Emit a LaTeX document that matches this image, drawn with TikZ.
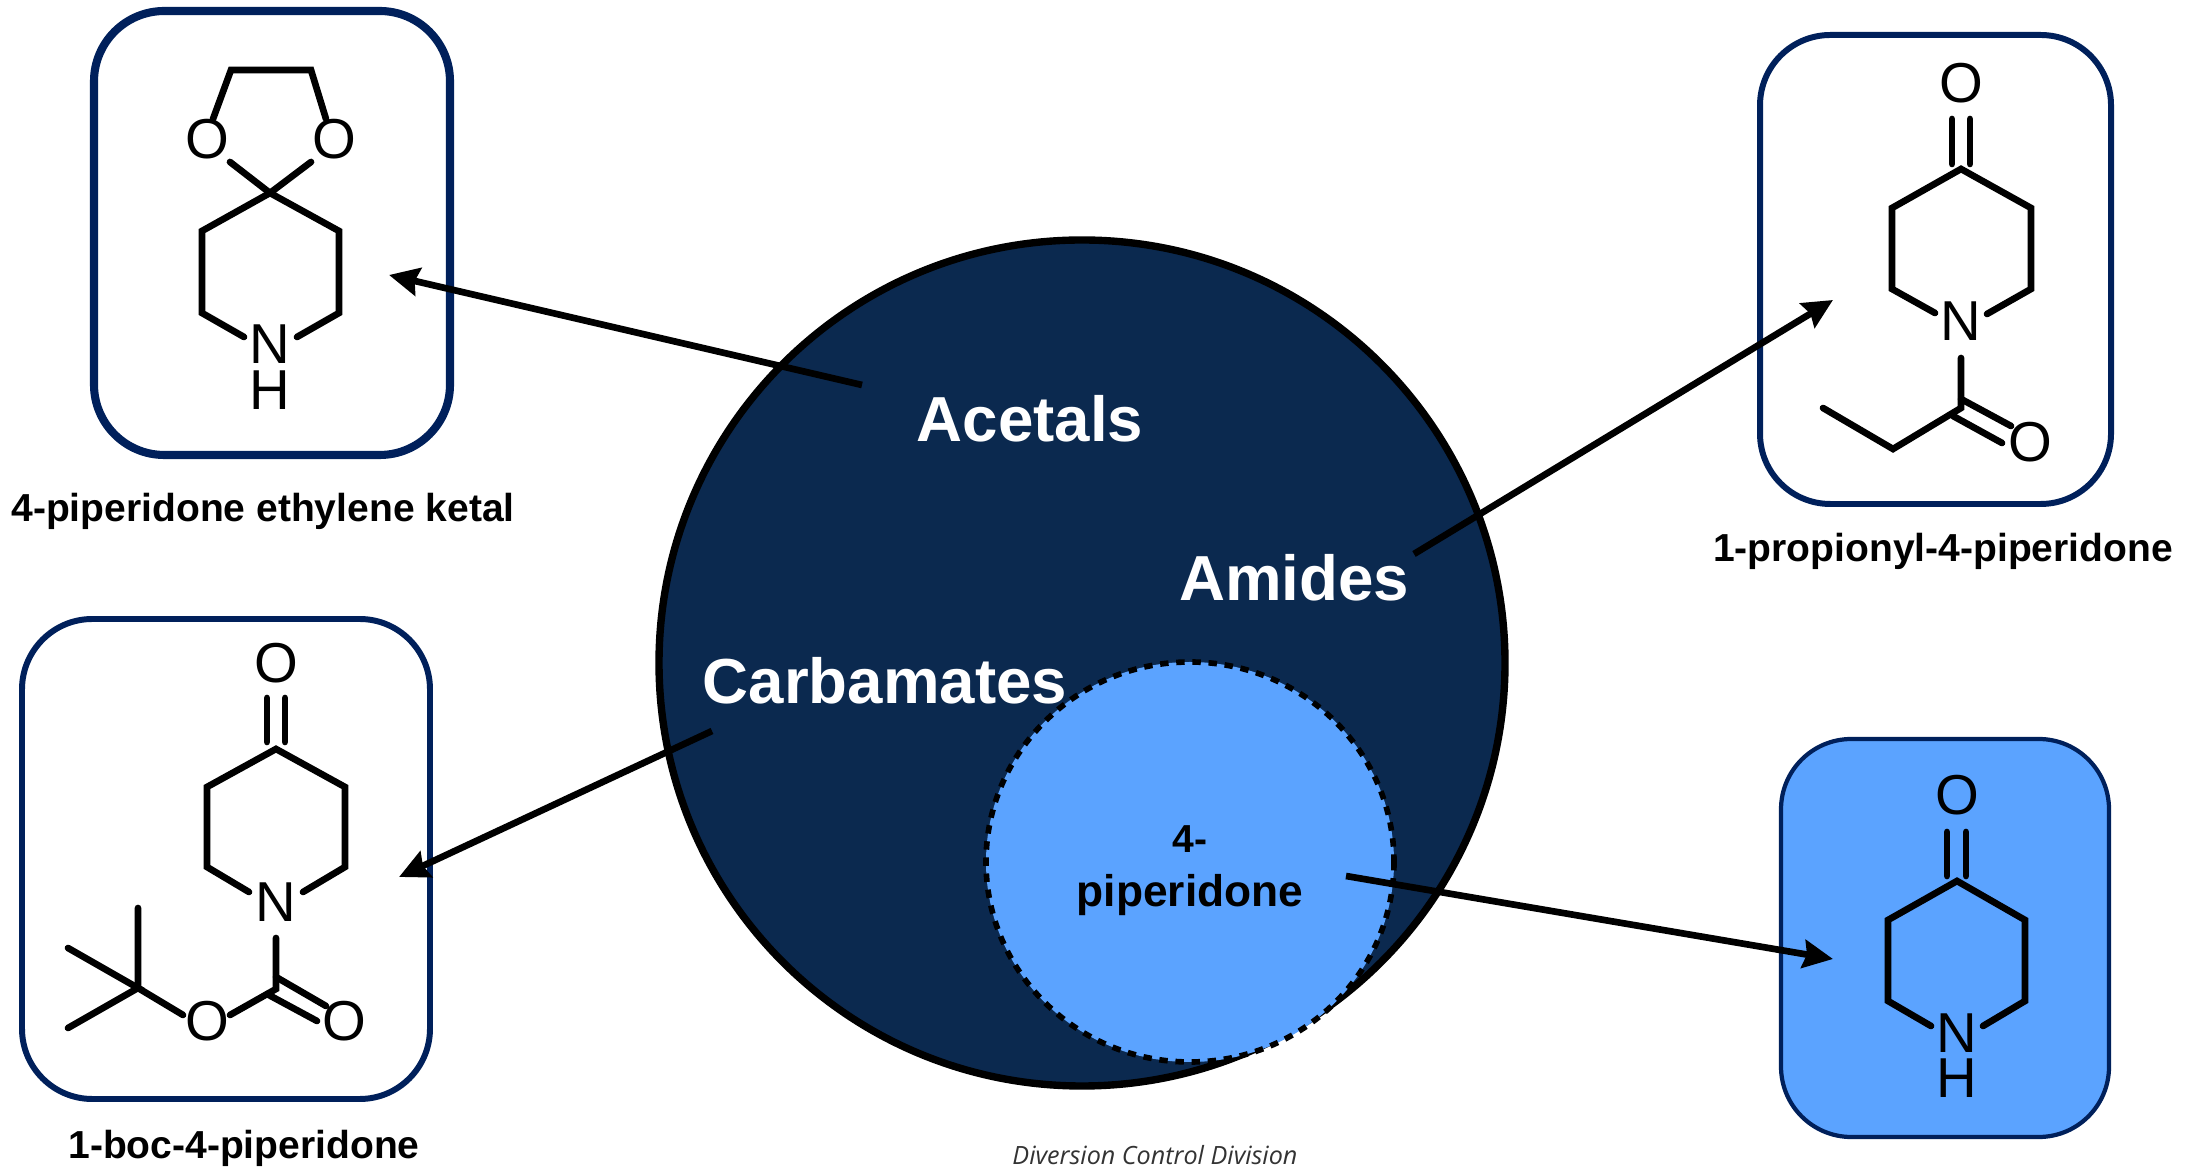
\documentclass[tikz,border=0pt]{standalone}
\usepackage{fontspec}
\setmainfont{Liberation Sans}
\newfontfamily\captionfont{Open Sans}
\usetikzlibrary{arrows.meta}
\definecolor{navy}{RGB}{11,41,79}
\definecolor{boxline}{RGB}{0,32,91}
\definecolor{skyblue}{RGB}{91,163,255}
\begin{document}
\begin{tikzpicture}[x=0.01cm, y=-0.01cm,
	bond/.style={line width=1.9pt, line cap=round, line join=miter},
	atom/.style={font=\fontsize{16}{18}\selectfont, inner sep=0pt},
	molbox/.style={line width=1.7pt, draw=boxline, rounded corners=20pt},
	setname/.style={font=\fontsize{18.1}{22}\selectfont\bfseries, text=white, inner sep=0pt, anchor=base},
	molname/.style={font=\fontsize{11.1}{13}\selectfont\bfseries, inner sep=0pt, anchor=base},
	link/.style={line width=1.9pt, -{Stealth[length=8.5pt, width=8pt, inset=1pt]}}]
	\useasboundingbox (0,0) rectangle (2188,1168);

	\draw[line width=2.1pt, fill=navy] (1082,663) circle (423);
	\draw[line width=1.6pt, fill=skyblue, dash pattern=on 2.4pt off 2.2pt] (1190,862) ellipse (204 and 200);
	\node[setname] (acetals) at (1030,442) {Acetals};
	\node[setname] (amides) at (1294,601) {Amides};
	\node[setname] (carbamates) at (885,704) {Carbamates};
	\node[molname] (parent1) at (1190,853) {4-};
	\node[molname, font=\fontsize{12.6}{15}\selectfont\bfseries] (parent2) at (1190,907) {piperidone};
	\node[font=\captionfont\itshape\fontsize{7.15}{8}\selectfont, text=black!80, inner sep=0pt, anchor=base] (division) at (1155,1165) {Diversion Control Division};

	\draw[molbox, line width=2.3pt] (94,11) rectangle (450,455);
	\node[atom] (ketalO1) at (207,139.5) {O};
	\node[atom] (ketalO2) at (334,139.5) {O};
	\node[atom] (ketalN) at (270,344) {N};
	\node[atom] (ketalH) at (270,390.5) {H};
	\draw[bond] (213,119) -- (231,70) -- (311,70) -- (326,119);
	\draw[bond] (230,162) -- (270,193) -- (311,162);
	\draw[bond] (244,337) -- (202,313) -- (202,231) -- (270,193) -- (339,231) -- (339,313) -- (297,337);
	\node[molname] (ketal) at (263,522) {4-piperidone ethylene ketal};

	\draw[molbox] (22,619) rectangle (430,1099);
	\node[atom] (bocO1) at (276,663) {O};
	\node[atom] (bocN) at (276,902) {N};
	\node[atom] (bocO2) at (207,1021) {O};
	\node[atom] (bocO3) at (344,1021) {O};
	\draw[bond] (267,698) -- (267,742);
	\draw[bond] (285,698) -- (285,742);
	\draw[bond] (249,892) -- (207,867) -- (207,787) -- (276,749) -- (345,787) -- (345,867) -- (303,892);
	\draw[bond] (276,938) -- (276,989) -- (230,1015);
	\draw[bond] (276,977) -- (326,1006);
	\draw[bond] (267,994) -- (317,1021);
	\draw[bond] (183,1015) -- (138,988) -- (138,908);
	\draw[bond] (68,948) -- (138,988) -- (68,1028);
	\node[molname] (boc) at (244,1159) {1-boc-4-piperidone};

	\draw[molbox] (1760,35) rectangle (2111,504);
	\node[atom] (propO1) at (1961,83) {O};
	\node[atom] (propN) at (1961,321) {N};
	\node[atom] (propO2) at (2030,442) {O};
	\draw[bond] (1952,119) -- (1952,164);
	\draw[bond] (1970,119) -- (1970,164);
	\draw[bond] (1935,313) -- (1892,289) -- (1892,208) -- (1961,169) -- (2031,208) -- (2031,289) -- (1987,314);
	\draw[bond] (1961,358) -- (1961,408) -- (1893,449) -- (1823,408);
	\draw[bond] (1961,399) -- (2011,426);
	\draw[bond] (1953,416) -- (2002,443);
	\node[molname] (prop) at (1943,562) {1-propionyl-4-piperidone};

	\draw[molbox, line width=1.2pt, fill=skyblue] (1781,739) rectangle (2109,1137);
	\node[atom] (pipO) at (1957,795) {O};
	\node[atom] (pipN) at (1957,1033) {N};
	\node[atom] (pipH) at (1957,1078) {H};
	\draw[bond] (1947,832) -- (1947,876);
	\draw[bond] (1966,832) -- (1966,876);
	\draw[bond] (1931,1026) -- (1888,1001) -- (1888,920) -- (1957,881) -- (2025,920) -- (2025,1001) -- (1983,1026);

	\coordinate (ketalTail) at (862,385);
	\coordinate (ketalTip) at (389,275);
	\coordinate (bocTail) at (712,731);
	\coordinate (bocTip) at (399,877);
	\coordinate (propTail) at (1414,554);
	\coordinate (propTip) at (1833,300);
	\coordinate (pipTail) at (1346,876);
	\coordinate (pipTip) at (1833,959);
	\draw[link] (ketalTail) -- (ketalTip);
	\draw[link] (bocTail) -- (bocTip);
	\draw[link] (propTail) -- (propTip);
	\draw[link] (pipTail) -- (pipTip);
\end{tikzpicture}
\end{document}
